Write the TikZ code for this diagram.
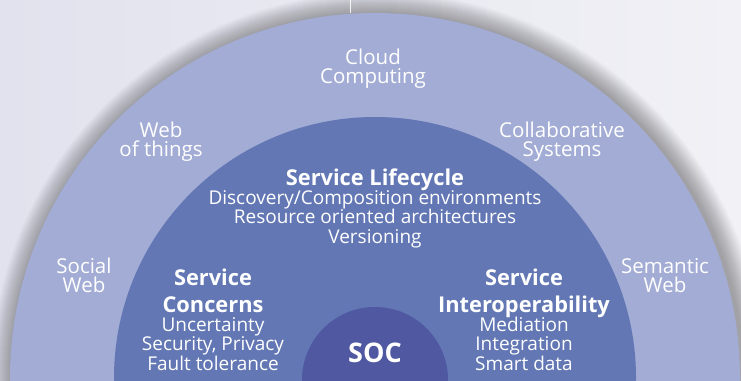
\documentclass[tikz,border=0pt]{standalone}
\usepackage{fontspec}
\setmainfont{Open Sans}
\definecolor{bgL}{HTML}{E1E2ED}
\definecolor{bgR}{HTML}{F1F1F6}
\definecolor{ringout}{HTML}{A2ACD4}
\definecolor{ringmid}{HTML}{6277B4}
\definecolor{ringsoc}{HTML}{4F58A0}
\definecolor{topline}{HTML}{F4F4F7}
\tikzset{
  outerlbl/.style={text=white, align=center, anchor=base, inner sep=0pt,
    font=\fontsize{20.5}{19}\selectfont},
  headlbl/.style={text=white, align=center, anchor=base, inner sep=0pt,
    font=\fontsize{21.8}{26.5}\selectfont\bfseries},
  itemlbl/.style={text=white, align=center, anchor=base, inner sep=0pt,
    font=\fontsize{19}{19.5}\selectfont},
}
\begin{document}
\begin{tikzpicture}[x=1pt,y=-1pt]
\useasboundingbox (0,0) rectangle (741,380);
\clip (0,0) rectangle (741,380);
\shade[left color=bgL, right color=bgR] (0,0) rectangle (741,380);
% drop shadow
\foreach \i in {0,...,21}{
  \fill[black, opacity=0.016] (378,379) circle[radius=387-\i];
}
\fill[ringout] (375,378) circle[radius=365];
\fill[ringmid] (375,378) circle[radius=261];
\fill[ringsoc] (375,380) circle[radius=73];
% top line
\coordinate (ltop) at (350,0);
\coordinate (lbot) at (350,13);
\draw[topline, line width=1pt] (ltop) -- (lbot);
% outer ring labels
\node[outerlbl] (cloud) at (373,83) {Cloud\\Computing};
\node[outerlbl] (wot) at (161,156) {Web\\of things};
\node[outerlbl] (collab) at (562,156) {Collaborative\\Systems};
\node[outerlbl] (social) at (84,292) {Social\\Web};
\node[outerlbl] (semantic) at (665,292) {Semantic\\Web};
% middle ring
\node[headlbl] (lifehead) at (375,185) {Service Lifecycle};
\node[itemlbl] (lifeitems) at (375,243) {Discovery/Composition environments\\Resource oriented architectures\\Versioning};
\node[headlbl] (conchead) at (213,312) {Service\\Concerns};
\node[itemlbl] (concitems) at (213,370) {Uncertainty\\Security, Privacy\\Fault tolerance};
\node[headlbl] (interhead) at (524,312) {Service\\Interoperability};
\node[itemlbl] (interitems) at (524,370) {Mediation\\Integration\\Smart data};
% SOC
\node[text=white, anchor=base, inner sep=0pt, font=\fontsize{27}{27}\selectfont\bfseries] (soc) at (375,362) {SOC};
\end{tikzpicture}
\end{document}
